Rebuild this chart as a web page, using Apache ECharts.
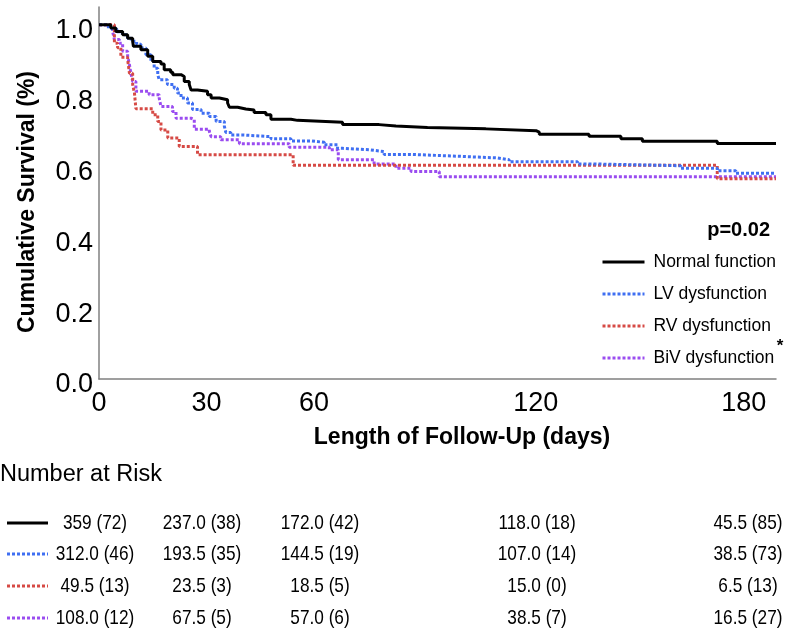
<!DOCTYPE html>
<html><head><meta charset="utf-8">
<script src="https://cdn.jsdelivr.net/npm/echarts@6/dist/echarts.min.js"></script>
<style>html,body{margin:0;padding:0;background:#fff}#c{width:786px;height:633px}</style>
</head><body><div id="c"></div>
<script>
// ---------- data ----------
const seriesNames = ['Normal function', 'LV dysfunction', 'RV dysfunction', 'BiV dysfunction'];
const normalCurve = [[0,1.0],[3.3,0.991],[4.7,0.981],[6.6,0.972],[8,0.962],[9.4,0.953],[9.6,0.939],[11.7,0.929],[13.6,0.911],[15,0.896],[17.3,0.889],[18.2,0.873],[20,0.866],[20.6,0.859],[22.9,0.854],[23.8,0.840],[25.2,0.831],[25.7,0.816],[27.5,0.812],[30.3,0.802],[31.3,0.793],[33.6,0.788],[35.9,0.779],[36.4,0.767],[38.7,0.762],[41,0.759],[43.3,0.752],[46.6,0.746],[48,0.733],[53.6,0.730],[55.4,0.725],[68,0.718],[78.2,0.714],[82.9,0.710],[91.7,0.706],[108,0.701],[122,0.697],[122.9,0.691],[136.8,0.685],[145.7,0.678],[151.7,0.671],[172.6,0.665],[189,0.665]];
const lvCurve = [[0,1.0],[2,0.994],[3.5,0.988],[5,0.980],[6.5,0.972],[8,0.962],[9,0.953],[10.5,0.945],[11.7,0.934],[13.1,0.915],[14.5,0.896],[15.4,0.877],[16.4,0.859],[16.8,0.845],[19.1,0.831],[21,0.821],[21.9,0.807],[22.9,0.793],[24.7,0.779],[26.1,0.761],[28.5,0.750],[30.8,0.741],[32.7,0.727],[35,0.713],[35.4,0.696],[36.8,0.689],[40,0.684],[48,0.678],[53.6,0.672],[59.2,0.668],[62.9,0.661],[66.6,0.651],[68,0.647],[75.4,0.642],[79.6,0.634],[87,0.629],[99.6,0.624],[111.3,0.619],[114.5,0.613],[133.6,0.607],[138.3,0.602],[162.4,0.595],[172.6,0.588],[177.8,0.581],[189,0.581]];
const rvCurve = [[0,1.0],[4.3,0.948],[5.2,0.935],[6.1,0.908],[8,0.901],[8.5,0.863],[9.4,0.831],[9.9,0.807],[10.3,0.763],[15,0.746],[16.4,0.727],[17.3,0.703],[19.2,0.680],[22.4,0.656],[27.5,0.633],[54.2,0.603],[172.6,0.565],[189,0.565]];
const bivCurve = [[0,1.0],[2,0.995],[3.8,0.981],[4.3,0.958],[5.7,0.948],[6.6,0.925],[8,0.911],[8.5,0.887],[8.9,0.863],[9.4,0.840],[10.3,0.812],[14,0.802],[16.8,0.793],[17.3,0.769],[20.5,0.755],[21.5,0.736],[25.7,0.732],[26.6,0.705],[30.8,0.699],[31.3,0.684],[34,0.675],[39.2,0.664],[53.1,0.654],[64.3,0.647],[66.8,0.619],[76.8,0.607],[82.9,0.595],[87.1,0.586],[95,0.571],[189,0.571]];
const xTickLabels = [0, 30, 60, 120, 180];
const yTickLabels = [0, 0.2, 0.4, 0.6, 0.8, 1.0];
const riskNormal = ['359 (72)', '237.0 (38)', '172.0 (42)', '118.0 (18)', '45.5 (85)'];
const riskLV = ['312.0 (46)', '193.5 (35)', '144.5 (19)', '107.0 (14)', '38.5 (73)'];
const riskRV = ['49.5 (13)', '23.5 (3)', '18.5 (5)', '15.0 (0)', '6.5 (13)'];
const riskBiV = ['108.0 (12)', '67.5 (5)', '57.0 (6)', '38.5 (7)', '16.5 (27)'];
const pValueText = 'p=0.02';

// ---------- style ----------
const colors = ['#000000', '#3f6ff2', '#d64a45', '#9a4cf0'];
const lineTypes = ['solid', [3, 2], [3, 2], [3, 2]];
const curves = [normalCurve, lvCurve, rvCurve, bivCurve];
const risks = [riskNormal, riskLV, riskRV, riskBiV];
const riskColX = [95, 202, 320, 537, 748];
const riskRowY = [523, 554, 586, 618];
const FONT = 'Liberation Sans, Arial, sans-serif';

const chart = echarts.init(document.getElementById('c'), null, {renderer: 'canvas'});

const graphics = [];
graphics.push({type: 'text', x: 28, y: 202, rotation: Math.PI / 2,
  style: {text: 'Cumulative Survival (%)', font: 'bold 23px ' + FONT, fill: '#000', align: 'center', verticalAlign: 'middle'}});
graphics.push({type: 'text', x: 462, y: 438,
  style: {text: 'Length of Follow-Up (days)', font: 'bold 23px ' + FONT, fill: '#000', align: 'center', verticalAlign: 'middle'}});
graphics.push({type: 'text', x: 770, y: 230,
  style: {text: pValueText, font: 'bold 20px ' + FONT, fill: '#000', align: 'right', verticalAlign: 'middle'}});
graphics.push({type: 'text', x: 780, y: 346,
  style: {text: '*', font: 'bold 17px ' + FONT, fill: '#000', align: 'center', verticalAlign: 'middle'}});
graphics.push({type: 'text', x: 0, y: 475,
  style: {text: 'Number at Risk', font: '23.5px ' + FONT, fill: '#000', align: 'left', verticalAlign: 'middle'}});
risks.forEach((row, i) => {
  graphics.push({type: 'line', shape: {x1: 7, y1: riskRowY[i], x2: 48, y2: riskRowY[i]},
    style: {stroke: colors[i], lineWidth: 3, lineDash: i === 0 ? null : [3, 2]}});
  row.forEach((t, j) => {
    graphics.push({type: 'text', x: riskColX[j], y: riskRowY[i], scaleX: 0.82,
      style: {text: t, font: '21px ' + FONT, fill: '#000', align: 'center', verticalAlign: 'middle'}});
  });
});

chart.setOption({
  animation: false,
  backgroundColor: '#fff',
  grid: {left: 99, right: 10, top: 7, bottom: 254, containLabel: false},
  xAxis: {
    type: 'value', min: 0, max: 189, interval: 30,
    axisLine: {show: true, lineStyle: {color: '#808080', width: 1.5}},
    axisTick: {show: false}, splitLine: {show: false},
    axisLabel: {
      show: true, color: '#000', fontSize: 27, fontFamily: FONT, margin: 11,
      showMaxLabel: false,
      formatter: v => {
        if (xTickLabels.indexOf(v) < 0) return '';
        if (v === 120) return '{s|' + v + '}';
        return String(v);
      },
      rich: {s: {fontSize: 27, fontFamily: FONT, color: '#000', padding: [0, 0, 0, 14]}}
    }
  },
  yAxis: {
    type: 'value', min: 0, max: 1.05, interval: 0.2,
    axisLine: {show: true, lineStyle: {color: '#808080', width: 1.5}},
    axisTick: {show: false}, splitLine: {show: false},
    axisLabel: {
      color: '#000', fontSize: 27, fontFamily: FONT, margin: 6, showMaxLabel: false,
      formatter: v => (yTickLabels.some(t => Math.abs(t - v) < 1e-6) ? '{a|' + v.toFixed(1) + '}' : ''),
      rich: {a: {fontSize: 27, fontFamily: FONT, color: '#000', padding: [12, 0, 0, 0]}}
    }
  },
  legend: {
    show: true, orient: 'vertical', left: 596, top: 244,
    itemWidth: 42, itemHeight: 22, itemGap: 6,
    itemStyle: {opacity: 0},
    lineStyle: {width: 3},
    textStyle: {color: '#000', fontSize: 17.5, fontFamily: FONT, padding: [0, 0, 0, 4], lineHeight: 26},
    data: seriesNames
  },
  series: curves.map((c, i) => ({
    name: seriesNames[i], type: 'line', step: 'end', data: c,
    symbol: 'none', showSymbol: false,
    lineStyle: {color: colors[i], width: 3, type: lineTypes[i]},
    itemStyle: {color: colors[i]},
    z: 10 - i
  })),
  graphic: graphics
});
</script></body></html>
